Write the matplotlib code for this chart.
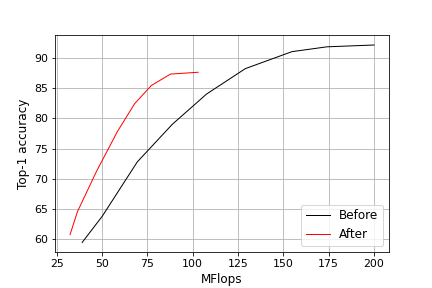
import matplotlib
matplotlib.use("Agg")
import matplotlib.pyplot as plt

before_x = [39, 50, 69.4, 88.7, 107.6, 129, 154.7, 174, 200]
before_y = [59.5, 63.8, 72.8, 79.0, 84.0, 88.2, 91.0, 91.8, 92.1]
after_x = [32.3, 36.4, 47, 58.4, 67.9, 77.1, 87.7, 103]
after_y = [60.8, 64.6, 71.3, 77.8, 82.4, 85.4, 87.3, 87.6]

fig, ax = plt.subplots(figsize=(6, 4), dpi=72)
fig.subplots_adjust(left=0.127, right=0.901, top=0.878, bottom=0.124)
ax.plot(before_x, before_y, color="black", linewidth=1, label="Before")
ax.plot(after_x, after_y, color="red", linewidth=1, label="After")
ax.set_xlabel("MFlops", fontsize=12)
ax.set_ylabel("Top-1 accuracy", fontsize=12)
ax.tick_params(labelsize=11)
ax.grid(True)
ax.legend(loc="lower right", fontsize=12)
fig.savefig("out.png", dpi=72)
